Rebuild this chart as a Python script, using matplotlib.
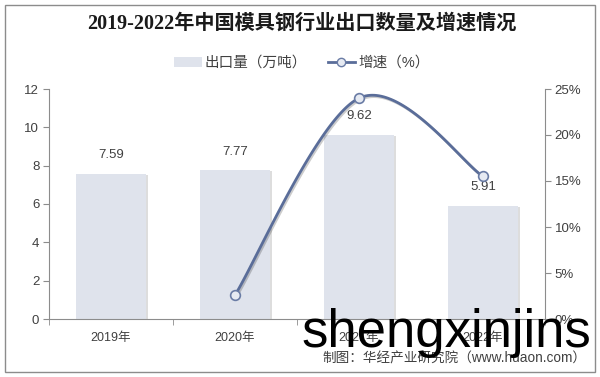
import numpy as np
import matplotlib
matplotlib.use("Agg")
import matplotlib.pyplot as plt
from matplotlib import patheffects as pe
from matplotlib.patches import Rectangle
from matplotlib.lines import Line2D
from matplotlib.patches import Patch

categories = ["2019年", "2020年", "2021年", "2022年"]
export_volume = [7.59, 7.77, 9.62, 5.91]          # 出口量（万吨）
growth_years = ["2020年", "2021年", "2022年"]
growth_rate = [2.6, 24.0, 15.5]                     # 增速（%）

title = "2019-2022年中国模具钢行业出口数量及增速情况"
source = "制图：华经产业研究院（www.huaon.com）"

CJK = ["Liberation Sans", "Noto Sans CJK SC", "DejaVu Sans"]
plt.rcParams["font.family"] = CJK

fig = plt.figure(figsize=(6.0, 3.77), dpi=100)
W, H = 600, 377
ax = fig.add_axes([49 / W, 1 - 319 / H, (545 - 49) / W, (319 - 89) / H])
ax2 = ax.twinx()

x = np.arange(len(categories))
bar_color = "#dfe3ec"
bars = ax.bar(x, export_volume, width=0.57, color=bar_color, zorder=2)
for b in bars:
    b.set_path_effects([pe.SimplePatchShadow(offset=(1.5, -1), shadow_rgbFace="#a0a0a0", alpha=0.35), pe.Normal()])
for xi, v in zip(x, export_volume):
    ax.annotate(f"{v:.2f}", (xi, v), xytext=(0, 9), textcoords="offset points",
                ha="center", va="bottom", fontsize=9.5, color="#404040")

ax.set_xlim(-0.5, len(categories) - 0.5)
ax.set_ylim(0, 12)
ax.set_yticks(np.arange(0, 13, 2))
ax.set_xticks(x)
ax.set_xticklabels(categories)
ax.set_xticks(np.arange(-0.5, len(categories), 1.0), minor=True)
ax.tick_params(axis="x", which="major", length=0, labelsize=9, colors="#404040", pad=9)
ax.tick_params(axis="x", which="minor", length=4, color="#8c8c8c", direction="out")
ax.tick_params(axis="y", length=4, color="#8c8c8c", labelsize=9.5, colors="#404040", pad=3)
for s in ["top", "right"]:
    ax.spines[s].set_visible(False)
ax.spines["left"].set_color("#8c8c8c")
ax.spines["bottom"].set_color("#8c8c8c")

# growth line (smoothed for drawing, Catmull-Rom -> Bezier)
gx = np.array([categories.index(c) for c in growth_years], dtype=float)
gy = np.array(growth_rate, dtype=float)
pts = np.column_stack([gx, gy])
path_x, path_y = [], []
t = np.linspace(0, 1, 60)
for i in range(len(pts) - 1):
    p0 = pts[i - 1] if i > 0 else pts[i]
    p1, p2 = pts[i], pts[i + 1]
    p3 = pts[i + 2] if i + 2 < len(pts) else pts[i + 1]
    c1 = p1 + (p2 - p0) / 6.0
    c2 = p2 - (p3 - p1) / 6.0
    bz = ((1 - t) ** 3)[:, None] * p1 + (3 * (1 - t) ** 2 * t)[:, None] * c1 + \
         (3 * (1 - t) * t ** 2)[:, None] * c2 + (t ** 3)[:, None] * p2
    path_x.extend(bz[:, 0]); path_y.extend(bz[:, 1])
line_color = "#5a6d99"
ax2.plot(path_x, path_y, color=line_color, lw=2.0, zorder=3, solid_capstyle="round",
         path_effects=[pe.SimpleLineShadow(offset=(1, -1), alpha=0.2), pe.Normal()])
ax2.plot(gx, gy, ls="none", marker="o", ms=7, mfc="#e6eaf2", mec="#6a7ca5", mew=1.2, zorder=4)

ax2.set_ylim(0, 25)
ax2.set_yticks(np.arange(0, 26, 5))
ax2.set_yticklabels([f"{v}%" for v in range(0, 26, 5)])
ax2.tick_params(axis="y", length=4, color="#8c8c8c", labelsize=9.5, colors="#404040", pad=3)
for s in ["top", "left", "bottom"]:
    ax2.spines[s].set_visible(False)
ax2.spines["right"].set_color("#8c8c8c")
ax.set_zorder(1)
ax2.set_zorder(2)
ax.patch.set_visible(False)

fig.text(0.503, 1 - 24 / H, title, ha="center", va="center", fontsize=14.5, fontweight="bold",
         family=["Liberation Serif", "Noto Sans CJK SC"], color="#1a1a1a")

handles = [Patch(facecolor=bar_color, edgecolor="none"),
           Line2D([0], [0], color=line_color, lw=2, marker="o", ms=6, mfc="#e6eaf2", mec="#6a7ca5")]
fig.legend(handles, ["出口量（万吨）", "增速（%）"], loc="center", bbox_to_anchor=(0.503, 1 - 63 / H),
           ncol=2, frameon=False, fontsize=10.5, handlelength=1.9, columnspacing=1.4,
           handletextpad=0.2, labelcolor="#404040")

fig.text(586 / W, 1 - 358 / H, source, ha="right", va="center", fontsize=9.8, color="#404040")
fig.text(301 / W, 1 - 347 / H, "shengxinjins", ha="left", va="baseline", fontsize=38,
         color="black", family="Liberation Sans")

fig.patches.append(Rectangle((5 / W, 5 / H), 590 / W, 367 / H, transform=fig.transFigure,
                             fill=False, edgecolor="#8c8c8c", lw=1.0))

fig.savefig("out.png", dpi=100)
